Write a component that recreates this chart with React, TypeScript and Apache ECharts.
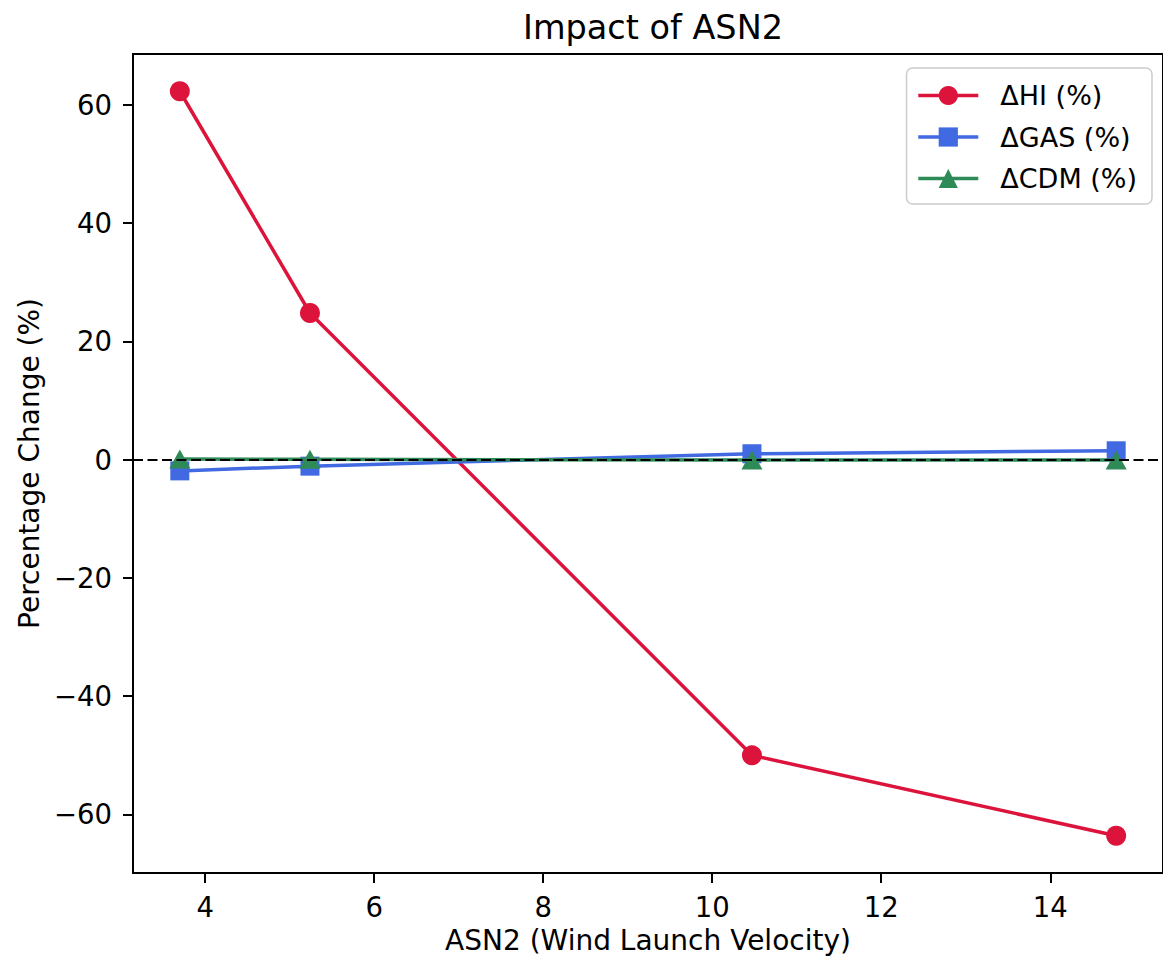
import React, { useEffect, useRef } from "react";
import * as echarts from "echarts";

const xValues = [3.7, 5.24, 10.47, 14.78];
const hiValues = [62.3, 24.8, -50.0, -63.6];
const gasValues = [-1.9, -1.1, 1.0, 1.5];
const cdmValues = [0.1, 0.05, -0.05, -0.05];
const xTicks = [4, 6, 8, 10, 12, 14];
const yTicks = [-60, -40, -20, 0, 20, 40, 60];
const seriesNames = ["\u0394HI (%)", "\u0394GAS (%)", "\u0394CDM (%)"];

const FONT = "DejaVu Sans";
const fmt = (v: number) => String(v).replace("-", "\u2212");

export default function App() {
  const ref = useRef<HTMLDivElement>(null);
  useEffect(() => {
    if (!ref.current) return;
    const chart = echarts.init(ref.current, null, { renderer: "svg" });
    const pairs = (ys: number[]) => xValues.map((x, i) => [x, ys[i]]);
    chart.setOption({
      animation: false,
      backgroundColor: "#ffffff",
      title: {
        text: "Impact of ASN2",
        left: 648,
        textAlign: "center",
        top: 5,
        textStyle: { fontFamily: FONT, fontSize: 33.5, fontWeight: "normal", color: "#000" },
      },
      grid: {
        left: 133,
        top: 54,
        width: 1034,
        height: 819,
        show: true,
        borderColor: "#000",
        borderWidth: 2,
        backgroundColor: "transparent",
      },
      legend: {
        orient: "vertical",
        right: 11,
        top: 68,
        padding: [14, 15, 12, 10],
        itemWidth: 60,
        itemHeight: 24,
        itemGap: 14.5,
        backgroundColor: "rgba(255,255,255,0.8)",
        borderColor: "#cccccc",
        borderWidth: 1.5,
        borderRadius: 6,
        lineStyle: { width: 3.5 },
        textStyle: { fontFamily: FONT, fontSize: 27, color: "#000", padding: [0, 0, 0, 17] },
        data: seriesNames,
      },
      xAxis: {
        type: "value",
        min: 3.146,
        max: 15.334,
        name: "ASN2 (Wind Launch Velocity)",
        nameLocation: "middle",
        nameGap: 53,
        nameTextStyle: { fontFamily: FONT, fontSize: 28, color: "#000" },
        axisLine: { show: true, onZero: false, lineStyle: { color: "#000", width: 2 } },
        axisTick: { show: true, inside: false, length: 10, lineStyle: { color: "#000", width: 2 }, customValues: xTicks },
        axisLabel: { fontFamily: FONT, fontSize: 27.5, color: "#000", margin: 20, customValues: xTicks, formatter: fmt },
        splitLine: { show: false },
      },
      yAxis: {
        type: "value",
        min: -69.9,
        max: 68.6,
        name: "Percentage Change (%)",
        nameLocation: "middle",
        nameGap: 84,
        nameTextStyle: { fontFamily: FONT, fontSize: 28, color: "#000" },
        axisLine: { show: true, lineStyle: { color: "#000", width: 2 } },
        axisTick: { show: true, inside: false, length: 10, lineStyle: { color: "#000", width: 2 }, customValues: yTicks },
        axisLabel: { fontFamily: FONT, fontSize: 27.5, color: "#000", margin: 21, customValues: yTicks, formatter: fmt },
        splitLine: { show: false },
      },
      series: [
        {
          name: seriesNames[0],
          type: "line",
          data: pairs(hiValues),
          symbol: "circle",
          symbolSize: 20,
          color: "#DC143C",
          lineStyle: { width: 3.5, color: "#DC143C" },
          itemStyle: { color: "#DC143C" },
          z: 2,
        },
        {
          name: seriesNames[1],
          type: "line",
          data: pairs(gasValues),
          symbol: "rect",
          symbolSize: 19,
          color: "#4169E1",
          lineStyle: { width: 3.5, color: "#4169E1" },
          itemStyle: { color: "#4169E1" },
          z: 3,
        },
        {
          name: seriesNames[2],
          type: "line",
          data: pairs(cdmValues),
          symbol: "triangle",
          symbolSize: [21, 19],
          color: "#2E8B57",
          lineStyle: { width: 3.5, color: "#2E8B57" },
          itemStyle: { color: "#2E8B57" },
          z: 4,
          markLine: {
            silent: true,
            symbol: "none",
            label: { show: false },
            lineStyle: { color: "#000", width: 2.2, type: [10, 4.5] },
            data: [{ yAxis: 0 }],
            z: 5,
          },
        },
      ],
    });
    return () => chart.dispose();
  }, []);
  return (
    <div
      ref={ref}
      style={{ position: "absolute", left: 0, top: 0, width: 1163, height: 963 }}
    />
  );
}
